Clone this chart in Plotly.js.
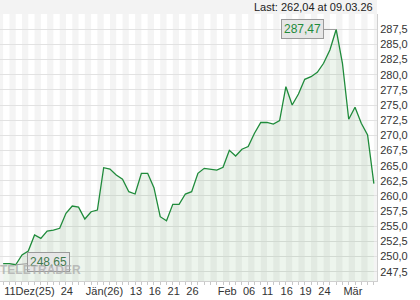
<!DOCTYPE html>
<html>
<head>
<meta charset="utf-8">
<script src="https://cdn.plot.ly/plotly-3.0.1.min.js"></script>
<style>html,body{margin:0;padding:0;background:#fff;}#chart{width:420px;height:300px;}</style>
</head>
<body>
<div id="chart"></div>
<script>
// Trading days (dates) and closing prices
const dates = [
  '2025-12-11','2025-12-12','2025-12-15','2025-12-16','2025-12-17','2025-12-18','2025-12-19','2025-12-22','2025-12-23','2025-12-24',
  '2025-12-29','2025-12-30','2025-12-31','2026-01-02','2026-01-05','2026-01-06','2026-01-07','2026-01-08','2026-01-09','2026-01-12',
  '2026-01-13','2026-01-14','2026-01-15','2026-01-16','2026-01-19','2026-01-20','2026-01-21','2026-01-22','2026-01-23','2026-01-26',
  '2026-01-27','2026-01-28','2026-01-29','2026-01-30','2026-02-02','2026-02-03','2026-02-04','2026-02-05','2026-02-06','2026-02-09',
  '2026-02-10','2026-02-11','2026-02-12','2026-02-13','2026-02-16','2026-02-17','2026-02-18','2026-02-19','2026-02-20','2026-02-23',
  '2026-02-24','2026-02-25','2026-02-26','2026-02-27','2026-03-02','2026-03-03','2026-03-04','2026-03-05','2026-03-06','2026-03-09'
];
const prices = [
  248.85, 248.85, 248.65, 250.26, 250.92, 253.56, 253.01, 254.22, 254.38, 254.66,
  257.14, 258.34, 258.15, 256.20, 257.40, 257.68, 264.66, 264.45, 263.46, 262.75,
  260.70, 260.32, 263.74, 263.74, 261.36, 256.58, 255.90, 258.62, 258.62, 260.32,
  260.70, 263.74, 264.56, 264.40, 264.28, 264.73, 267.53, 266.59, 267.71, 268.16,
  270.34, 272.12, 272.15, 271.87, 272.42, 278.03, 275.01, 276.82, 279.25, 279.68,
  280.40, 281.89, 284.08, 287.47, 281.89, 272.65, 274.63, 271.99, 270.06, 262.04
];
const tickDates = ['2025-12-11','2025-12-24','2026-01-02','2026-01-13','2026-01-16','2026-01-21','2026-01-26',
                   '2026-02-02','2026-02-06','2026-02-11','2026-02-16','2026-02-19','2026-02-24','2026-03-02'];
const tickText  = ['11Dez(25)','24','Jän(26)','13','16','21','26','Feb','06','11','16','19','24','Mär'];
const yTicks = [247.5, 250, 252.5, 255, 257.5, 260, 262.5, 265, 267.5, 270, 272.5, 275, 277.5, 280, 282.5, 285, 287.5];
const lastDateLabel = '09.03.26';

const n = prices.length;
const xIdx = dates.map((d, i) => i);
const tickVals = tickDates.map(d => dates.indexOf(d));
const fmt = v => v.toFixed(2).replace('.', ',');

let iMax = 0, iMin = 0;
prices.forEach((v, i) => { if (v > prices[iMax]) iMax = i; if (v < prices[iMin]) iMin = i; });

const GREEN = '#1f8b3b';
const FONT = 'Liberation Sans, Arial, sans-serif';

// alternating day stripes
const shapes = [];
for (let k = 0; k <= n / 2; k++) {
  const x0 = Math.max(2 * k - 1, -0.5), x1 = Math.min(2 * k, n - 0.5);
  if (x1 > x0) shapes.push({type: 'rect', layer: 'below', xref: 'x', yref: 'paper', x0: x0, x1: x1, y0: 0, y1: 1,
    fillcolor: '#f4f4f4', line: {width: 0}});
}
// header band
shapes.push({type: 'rect', layer: 'below', xref: 'paper', yref: 'paper', x0: 0, x1: 1, y0: 1, y1: 1 + 14 / 267,
  fillcolor: '#f3f3f3', line: {width: 0}});

const trace = {
  x: xIdx, y: prices, type: 'scatter', mode: 'lines',
  line: {color: GREEN, width: 1.3},
  fill: 'tozeroy', fillcolor: 'rgba(0,110,0,0.07)',
  hoverinfo: 'skip'
};

const layout = {
  width: 420, height: 300,
  margin: {l: 0, r: 43, t: 14, b: 19},
  paper_bgcolor: '#ffffff', plot_bgcolor: '#ffffff',
  separators: ',.',
  showlegend: false,
  font: {family: FONT, size: 11, color: '#333'},
  xaxis: {
    type: 'linear', range: [-0.5, n - 0.5],
    tickmode: 'array', tickvals: tickVals, ticktext: tickText,
    ticklabelposition: 'outside right', tickangle: 0,
    ticks: 'outside', ticklen: 3, tickcolor: '#c8c8c8',
    minor: {tickmode: 'linear', tick0: 0, dtick: 1, ticks: 'outside', ticklen: 3, tickcolor: '#c8c8c8', showgrid: false},
    showgrid: false, zeroline: false,
    showline: true, linecolor: '#d0d0d0', linewidth: 1,
    tickfont: {family: FONT, size: 11, color: '#333'},
    fixedrange: true
  },
  yaxis: {
    side: 'right', range: [245.97, 290.02],
    tickmode: 'array', tickvals: yTicks, tickformat: '.1f',
    ticks: '', showgrid: true, gridcolor: '#e2e2e2', gridwidth: 1,
    zeroline: false, showline: true, linecolor: '#d0d0d0', linewidth: 1,
    tickfont: {family: FONT, size: 11, color: '#333'},
    fixedrange: true
  },
  shapes: shapes,
  annotations: [
    {xref: 'paper', yref: 'paper', x: 1, y: 1, xanchor: 'right', yanchor: 'bottom', xshift: -2, yshift: -1,
     text: 'Last: ' + fmt(prices[n - 1]) + ' at ' + lastDateLabel, showarrow: false,
     font: {family: FONT, size: 11, color: '#222'}},
    {x: iMax, y: prices[iMax], xref: 'x', yref: 'y', text: fmt(prices[iMax]),
     showarrow: true, arrowhead: 0, arrowwidth: 1, arrowcolor: '#9a9a9a', ax: -34, ay: 0, standoff: 0,
     bgcolor: '#e6e6e6', bordercolor: '#9a9a9a', borderwidth: 1, borderpad: 2,
     font: {family: FONT, size: 12, color: GREEN}},
    {x: iMin, y: prices[iMin], xref: 'x', yref: 'y', text: fmt(prices[iMin]),
     showarrow: true, arrowhead: 0, arrowwidth: 1, arrowcolor: '#9a9a9a', ax: 33, ay: -3, standoff: 0,
     bgcolor: '#e6e6e6', bordercolor: '#9a9a9a', borderwidth: 1, borderpad: 2,
     font: {family: FONT, size: 12, color: '#3f7a4c'}},
    {xref: 'paper', yref: 'paper', x: 40 / 376.7, y: 11 / 267, xanchor: 'center', yanchor: 'middle',
     text: '<b>TELETRADER</b>', showarrow: false,
     font: {family: FONT, size: 12, color: 'rgba(170,170,170,0.75)'}}
  ]
};

Plotly.newPlot('chart', [trace], layout, {staticPlot: true, displayModeBar: false});
</script>
</body>
</html>
